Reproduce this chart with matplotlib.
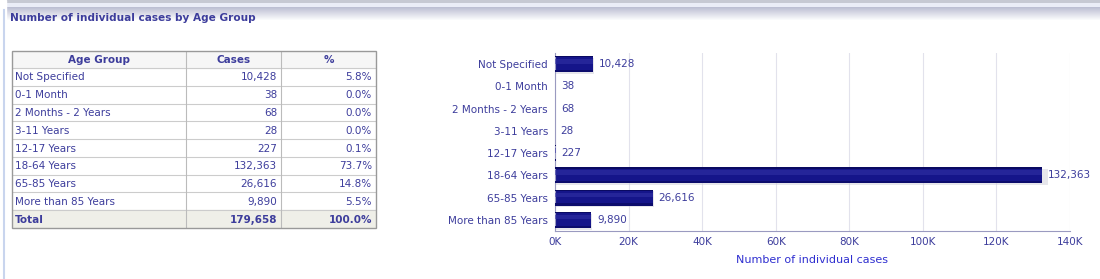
import matplotlib
matplotlib.use("Agg")
import matplotlib.pyplot as plt
from matplotlib.patches import Rectangle
import numpy as np

# ---- data ----
categories = ["Not Specified", "0-1 Month", "2 Months - 2 Years", "3-11 Years",
              "12-17 Years", "18-64 Years", "65-85 Years", "More than 85 Years"]
cases = [10428, 38, 68, 28, 227, 132363, 26616, 9890]
percents = ["5.8%", "0.0%", "0.0%", "0.0%", "0.1%", "73.7%", "14.8%", "5.5%"]
total_label = "Total"
total_percent = "100.0%"
xticks = [0, 20000, 40000, 60000, 80000, 100000, 120000, 140000]
xtick_labels = ["0K", "20K", "40K", "60K", "80K", "100K", "120K", "140K"]
headers = ["Age Group", "Cases", "%"]
title = "Number of individual cases by Age Group"
xlabel = "Number of individual cases"

W, H = 1100, 279
plt.rcParams['font.family'] = ['DejaVu Sans']
fig = plt.figure(figsize=(W / 100, H / 100), dpi=100)
fig.patch.set_facecolor("white")

TXT = "#3d3d9c"
FS = 7.5

def fx(x):
    return x / W

def fy(y):
    return 1 - y / H

# ---- panel frame (top band + left border) ----
bg = fig.add_axes([0, 0, 1, 1])
bg.set_xlim(0, W)
bg.set_ylim(H, 0)
bg.axis("off")
grad = np.ones((30, 1, 3))
for i in range(30):
    if i < 3:
        c = np.array([0.78, 0.79, 0.83])
    elif i < 7:
        c = np.array([0.92, 0.93, 0.97])
    else:
        t = min(1, (i - 7) / 13)
        c = np.array([0.74, 0.75, 0.83]) * (1 - t) + np.array([1, 1, 1]) * t
    grad[i, 0] = c
bg.imshow(grad, extent=(6, W, 30, 0), aspect="auto", zorder=0)
bg.add_patch(Rectangle((0, 0), 6, H, color="white", zorder=1))
bg.plot([3.5, 3.5], [10, H], color="#c9d5ee", lw=1.5, zorder=2)
bg.text(10, 18, title, fontsize=7.6, fontweight="bold", color=TXT, va="center", ha="left")

# ---- table ----
tx0, ty0, tw, th = 12, 51, 364, 177
tab = fig.add_axes([fx(tx0), fy(ty0 + th), fx(tw), th / H])
tab.set_xlim(0, tw)
tab.set_ylim(th, 0)
tab.axis("off")
cols = [0, 174, 269, 364]
hdr_h = 17
row_h = (th - hdr_h) / (len(categories) + 1)
rows_y = [0, hdr_h] + [hdr_h + row_h * (i + 1) for i in range(len(categories) + 1)]

tab.add_patch(Rectangle((0, 0), tw, hdr_h, color="#f6f6f6", zorder=0))
tab.add_patch(Rectangle((0, rows_y[-2]), tw, row_h, color="#efefe8", zorder=0))
for yy in rows_y[1:-1]:
    tab.plot([0, tw], [yy, yy], color="#cccccc", lw=0.8, zorder=1)
for xx in cols[1:-1]:
    tab.plot([xx, xx], [0, th], color="#bbbbbb", lw=0.8, zorder=1)
tab.add_patch(Rectangle((0, 0), tw, th, fill=False, ec="#999999", lw=1.0, zorder=2,
                        clip_on=False))

for j, h in enumerate(headers):
    tab.text((cols[j] + cols[j + 1]) / 2, hdr_h / 2 + 0.5, h, ha="center", va="center",
             fontsize=FS, fontweight="bold", color=TXT)

total_cases = sum(cases)
table_rows = [(c, f"{v:,}", p) for c, v, p in zip(categories, cases, percents)]
table_rows.append((total_label, f"{total_cases:,}", total_percent))
for i, (c, v, p) in enumerate(table_rows):
    yc = rows_y[i + 1] + row_h / 2 + 0.5
    bold = "bold" if i == len(table_rows) - 1 else "normal"
    tab.text(3, yc, c, ha="left", va="center", fontsize=FS, color=TXT, fontweight=bold)
    tab.text(cols[2] - 4, yc, v, ha="right", va="center", fontsize=FS, color=TXT, fontweight=bold)
    tab.text(cols[3] - 4, yc, p, ha="right", va="center", fontsize=FS, color=TXT, fontweight=bold)

# ---- bar chart ----
ax_l, ax_r, ax_t, ax_b = 555, 1070, 53, 231
ax = fig.add_axes([fx(ax_l), fy(ax_b), (ax_r - ax_l) / W, (ax_b - ax_t) / H])
y = np.arange(len(categories))
ax.barh(y + 0.08, [v * 1.012 for v in cases], height=0.72, color="#c8c8d4", alpha=0.45,
        lw=0, zorder=1)
ax.barh(y, cases, height=0.72, color="#15158a", lw=0, zorder=2)
ax.barh(y - 0.33, cases, height=0.06, color="#0a0a62", lw=0, zorder=3)
ax.barh(y - 0.12, cases, height=0.2, color="#3434a6", alpha=0.55, lw=0, zorder=3)
ax.barh(y + 0.31, cases, height=0.1, color="#0c0c6c", lw=0, zorder=3)
for yi, v in zip(y, cases):
    ax.text(v + 1500, yi, f"{v:,}", va="center", ha="left", fontsize=FS, color=TXT, zorder=4)

ax.set_xlim(0, 140000)
ax.set_ylim(len(categories) - 0.5, -0.5)
ax.set_yticks(y)
ax.set_yticklabels(categories, fontsize=FS, color=TXT)
ax.set_xticks(xticks)
ax.set_xticklabels(xtick_labels, fontsize=FS, color=TXT)
ax.tick_params(axis="both", length=0)
ax.tick_params(axis="y", pad=5)
ax.tick_params(axis="x", pad=4)
ax.grid(axis="x", color="#e2e2ec", lw=0.8, zorder=0)
ax.set_axisbelow(True)
for s in ["top", "right"]:
    ax.spines[s].set_visible(False)
ax.spines["left"].set_color("#9a9ac0")
ax.spines["bottom"].set_color("#9a9ac0")
ax.set_xlabel(xlabel, fontsize=8, color="#2f2fd0", labelpad=6)

fig.savefig("out.png", dpi=100)
